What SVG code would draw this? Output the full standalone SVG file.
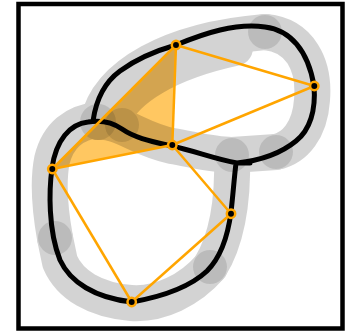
<svg xmlns="http://www.w3.org/2000/svg" width="354" height="335" viewBox="0 0 354 335">
<style>
.halo{fill:none;stroke:#000;stroke-width:36;stroke-linecap:round;stroke-linejoin:round}
.spot{fill:#000;fill-opacity:0.11}
.curve{fill:none;stroke:#000;stroke-width:5;stroke-linecap:round;stroke-linejoin:round}
.edge{stroke:#ffa500;stroke-width:2.5;fill:none}
.node{fill:#000;stroke:#ffa500;stroke-width:2.5}
</style>
<rect x="0" y="0" width="354" height="335" fill="#fff"/>
<rect x="18.5" y="4" width="324" height="324.5" fill="#fff" stroke="#000" stroke-width="4.5"/>
<polygon points="176,45 172.3,145 52.3,169" fill="#ffa500" fill-opacity="0.62"/>
<g id="halo" opacity="0.17">
<path class="halo" d="M55,238 C50,210 48,180 52,160 C58,135 75,122 98,120"/>
<path class="halo" d="M98,122 C108,75 170,40 265,32"/>
<path class="halo" d="M112,120 C125,88 170,62 235,48"/>
<path class="halo" d="M265,32 C300,35 315,65 312,100 C310,130 295,148 276,152"/>
<path class="halo" d="M276,152 L232,155"/>
<path class="halo" d="M232,155 C233,190 230,235 210,267"/>
<path class="halo" d="M210,267 C190,290 160,305 131,303 C95,300 70,285 60,262 L55,238"/>
<path class="halo" d="M98,122 C120,120 140,140 172,146 C195,150 215,155 232,155"/>
</g>
<g id="spots">
<circle class="spot" cx="265" cy="32" r="17"/>
<circle class="spot" cx="232" cy="155" r="17"/>
<circle class="spot" cx="276" cy="152" r="17"/>
<circle class="spot" cx="55" cy="238" r="17"/>
<circle class="spot" cx="210" cy="267" r="17"/>
<circle class="spot" cx="98" cy="122" r="18"/>
<circle class="spot" cx="122" cy="125" r="17"/>
</g>
<g id="curve">
<path class="curve" d="M93,121 C96,100 105,82 120,71 C135,60 155,51 176,45 C205,33 235,23 265,27 C290,30 308,50 314,86 C316,110 310,130 296,141 C285,150 265,160 237,163 C215,159 195,151 172,146 C150,141 135,138 122,129 C112,122 100,120 88,122 C70,124 56,140 52,168 C49,190 48,230 60,260 C70,282 95,298 132,302 C160,297 190,287 207,271 C222,256 228,235 231,212 C233,195 234,180 236,163 L250,163"/>
</g>
<g id="connectors">
<line class="edge" x1="176" y1="45" x2="314.3" y2="86"/>
<line class="edge" x1="314.3" y1="86" x2="172.3" y2="145"/>
<line class="edge" x1="176" y1="45" x2="172.3" y2="145"/>
<line class="edge" x1="176" y1="45" x2="52.3" y2="169"/>
<line class="edge" x1="172.3" y1="145" x2="52.3" y2="169"/>
<line class="edge" x1="172.3" y1="145" x2="231" y2="213.7"/>
<line class="edge" x1="231" y1="213.7" x2="131.7" y2="302"/>
<line class="edge" x1="52.3" y1="169" x2="131.7" y2="302"/>
</g>
<g id="nodeA"><circle class="node" cx="176" cy="45" r="4.2"/></g>
<g id="nodeB"><circle class="node" cx="314.3" cy="86" r="4.2"/></g>
<g id="nodeC"><circle class="node" cx="172.3" cy="145" r="4.2"/></g>
<g id="nodeD"><circle class="node" cx="52.3" cy="169" r="4.2"/></g>
<g id="nodeE"><circle class="node" cx="231" cy="213.7" r="4.2"/></g>
<g id="nodeF"><circle class="node" cx="131.7" cy="302" r="4.2"/></g>
</svg>
